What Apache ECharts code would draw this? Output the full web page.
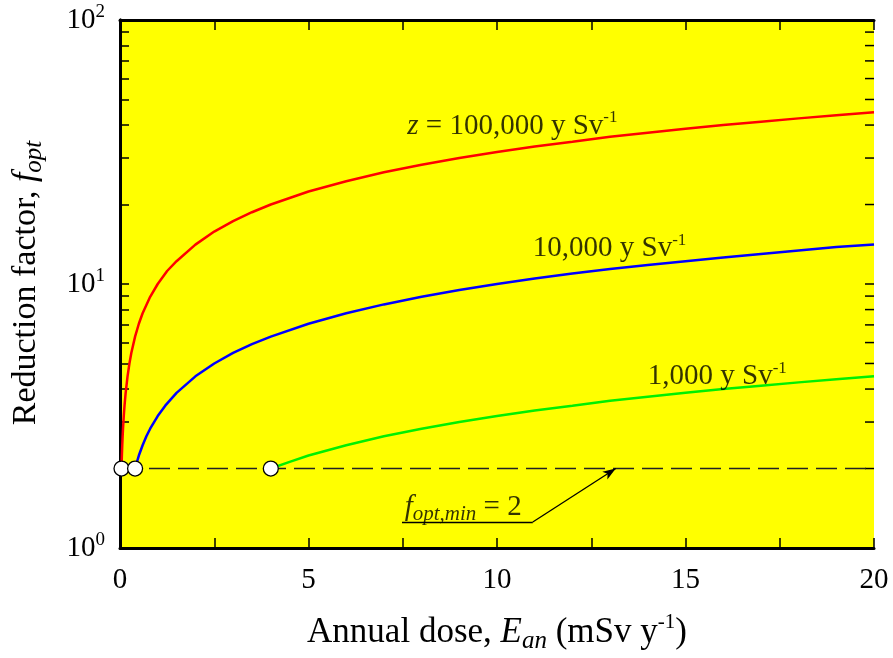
<!DOCTYPE html>
<html>
<head>
<meta charset="utf-8">
<script src="https://cdn.jsdelivr.net/npm/echarts@6/dist/echarts.min.js"></script>
<style>
html,body{margin:0;padding:0;background:#fff;}
#chart{width:893px;height:658px;}
</style>
</head>
<body>
<div id="chart"></div>
<script>
// ---- data ----
const doseRed   = [0.04,0.045,0.05,0.06,0.07,0.08,0.1,0.12,0.15,0.2,0.25,0.3,0.4,0.5,0.6,0.8,1,1.25,1.5,2,2.5,3,3.5,4,5,6,7,8,9,10,11,12,13,14,15,16,17,18,19,20];
const fRed      = [2.0,2.12,2.24,2.45,2.65,2.83,3.16,3.46,3.87,4.47,5.0,5.48,6.32,7.07,7.75,8.94,10.0,11.2,12.2,14.1,15.8,17.3,18.7,20.0,22.4,24.5,26.5,28.3,30.0,31.6,33.2,34.6,36.1,37.4,38.7,40.0,41.2,42.4,43.6,44.7];
const doseBlue  = [0.4,0.45,0.5,0.6,0.7,0.8,1,1.2,1.5,2,2.5,3,3.5,4,5,6,7,8,9,10,11,12,13,14,15,16,17,18,19,20];
const fBlue     = [2.0,2.12,2.24,2.45,2.65,2.83,3.16,3.46,3.87,4.47,5.0,5.48,5.92,6.32,7.07,7.75,8.37,8.94,9.49,10.0,10.5,10.95,11.4,11.8,12.2,12.6,13.0,13.4,13.8,14.1];
const doseGreen = [4,4.5,5,6,7,8,9,10,11,12,13,14,15,16,17,18,19,20];
const fGreen    = [2.0,2.12,2.24,2.45,2.65,2.83,3.0,3.16,3.32,3.46,3.61,3.74,3.87,4.0,4.12,4.24,4.36,4.47];
const startDose = [0.04,0.4,4];
const fMin = 2;
const xTicks = [0,2.5,5,7.5,10,12.5,15,17.5,20];
const xLabels = [0,5,10,15,20];
const yTicks = [1,2,3,4,5,6,7,8,9,10,20,30,40,50,60,70,80,90,100];
const yLabels = [1,10,100];
const curveLabels = [
  {x:7.62, y:39.7, text:'{i|z} = 100,000 y Sv{sup|-1}'},
  {x:10.95, y:13.6, text:'10,000 y Sv{sup|-1}'},
  {x:14.0, y:4.45, text:'1,000 y Sv{sup|-1}'},
  {x:7.55, y:1.42, text:'{i|f}{sub|opt,min} = 2'}
];
const arrowPts = [[7.48,1.255],[10.95,1.255],[13.15,2]];

const FONT = "'Liberation Serif','Times New Roman',serif";
const zip = (a,b) => a.map((v,i) => [v,b[i]]);

const richBase = {
  i:{fontFamily:FONT,fontSize:29,fontStyle:'italic',color:'#000',lineHeight:34},
  sup:{fontFamily:FONT,fontSize:17,color:'#000',verticalAlign:'top',lineHeight:34},
  sub:{fontFamily:FONT,fontSize:21,fontStyle:'italic',color:'#000',verticalAlign:'bottom',lineHeight:34,padding:[8,0,0,0]}
};

const chart = echarts.init(document.getElementById('chart'), null, {renderer:'canvas'});
const axisLineStyle = {show:true, lineStyle:{color:'#000', width:3}};
const TICK_LEN = 9;

const option = {
  animation:false,
  backgroundColor:'#fff',
  grid:{left:120, right:19, top:20, bottom:110, show:true, backgroundColor:'#ffff00', borderWidth:0,
        containLabel:false, outerBoundsMode:'none'},
  xAxis:[
    {type:'value', position:'bottom', min:0, max:20, interval:2.5,
     axisLine:axisLineStyle,
     axisTick:{show:true, inside:true, length:10, customValues:xTicks, lineStyle:{color:'#000', width:1.5}},
     axisLabel:{customValues:xLabels, margin:18, fontFamily:FONT, fontSize:29, color:'#000',
       formatter:v => (v % 5 === 0 ? String(v) : '')},
     splitLine:{show:false},
     name:'Annual dose, {i|E}{sub|an} (mSv y{sup|-1})', nameLocation:'middle', nameGap:64,
     nameTextStyle:{fontFamily:FONT, fontSize:35, color:'#000',
       rich:{
         i:{fontFamily:FONT,fontSize:35,fontStyle:'italic',color:'#000',lineHeight:42},
         sub:{fontFamily:FONT,fontSize:25,fontStyle:'italic',color:'#000',verticalAlign:'bottom',lineHeight:42,padding:[10,0,0,0]},
         sup:{fontFamily:FONT,fontSize:21,color:'#000',verticalAlign:'top',lineHeight:42}
       }}
    },
    {type:'value', position:'top', min:0, max:20, interval:2.5,
     axisLine:axisLineStyle,
     axisTick:{show:true, inside:true, length:10, customValues:xTicks, lineStyle:{color:'#000', width:1.5}},
     axisLabel:{show:false}, splitLine:{show:false}}
  ],
  yAxis:[
    {type:'log', logBase:10, min:1, max:100, position:'left',
     axisLine:axisLineStyle,
     axisTick:{show:true, inside:true, length:TICK_LEN, customValues:yTicks, lineStyle:{color:'#000', width:1.5}},
     axisLabel:{customValues:yLabels, margin:15, color:'#000',
       formatter:v => '{b|10}{s|' + Math.round(Math.log10(v)) + '}',
       rich:{
         b:{fontFamily:FONT,fontSize:29,color:'#000',lineHeight:34},
         s:{fontFamily:FONT,fontSize:19,color:'#000',verticalAlign:'top',lineHeight:34}
       }},
     splitLine:{show:false}, minorSplitLine:{show:false}},
    {type:'log', logBase:10, min:1, max:100, position:'right',
     axisLine:axisLineStyle,
     axisTick:{show:false},
     axisLabel:{show:false}, splitLine:{show:false}}
  ],
  graphic:[
    {type:'text', x:26, y:283, rotation:Math.PI/2, z:10,
     style:{text:'Reduction factor, {i|f}{sub|opt}', fontFamily:FONT, fontSize:34, fill:'#000',
       align:'center', verticalAlign:'middle',
       rich:{
         i:{fontFamily:FONT,fontSize:34,fontStyle:'italic',fill:'#000',lineHeight:42},
         sub:{fontFamily:FONT,fontSize:25,fontStyle:'italic',fill:'#000',verticalAlign:'bottom',lineHeight:42,padding:[10,0,0,0]}
       }}}
  ],
  series:[
    // right-side inward ticks of the log axis (same tick values as the left axis)
    {type:'custom', name:'rightTicks', yAxisIndex:1, silent:true, z:1,
     data:yTicks.map(v => [20, v]),
     renderItem:(params, api) => {
       const p = api.coord([api.value(0), api.value(1)]);
       return {type:'line', shape:{x1:p[0]-TICK_LEN, y1:p[1], x2:p[0], y2:p[1]},
               style:{stroke:'#000', lineWidth:1.5}};
     }},
    {type:'line', name:'fmin', data:[[0,fMin],[20,fMin]], symbol:'none', z:2,
     lineStyle:{color:'#222', width:1.5, type:[21,8]},
     markLine:{silent:true, animation:false, symbol:['none','none'],
       lineStyle:{color:'#000', width:1.3, type:'solid'}, label:{show:false},
       data:[
         [{coord:arrowPts[0], symbol:'none'},{coord:arrowPts[1], symbol:'none'}],
         [{coord:arrowPts[1], symbol:'none'},{coord:arrowPts[2], symbol:'arrow', symbolSize:[7,13]}]
       ]}},
    {type:'line', name:'z=100000', data:zip(doseRed,fRed), symbol:'none', smooth:false, z:3,
     lineStyle:{color:'#ff0000', width:2.5}},
    {type:'line', name:'z=10000', data:zip(doseBlue,fBlue), symbol:'none', smooth:false, z:3,
     lineStyle:{color:'#0000ff', width:2.5}},
    {type:'line', name:'z=1000', data:zip(doseGreen,fGreen), symbol:'none', smooth:false, z:3,
     lineStyle:{color:'#00f000', width:2.5}},
    {type:'scatter', name:'start', data:startDose.map(d => [d,fMin]), symbol:'circle', symbolSize:15, z:5,
     itemStyle:{color:'#fff', opacity:1, borderColor:'#000', borderWidth:1.3}},
    {type:'scatter', name:'labels', data:curveLabels.map(l => [l.x,l.y]), symbolSize:0, z:6, silent:true,
     label:{show:true, position:'right', distance:0,
       formatter:p => curveLabels[p.dataIndex].text,
       fontFamily:FONT, fontSize:29, color:'#000', lineHeight:34,
       rich:richBase}}
  ]
};
chart.setOption(option);
</script>
</body>
</html>
